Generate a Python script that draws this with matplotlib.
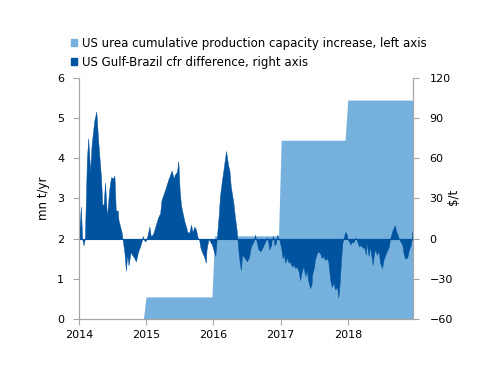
"""
US urea capacity additions vs US Gulf-Brazil cfr spread, 2014-2018.
Left axis: cumulative capacity increase (mn t/yr), right axis: spread ($/t).
"""
import matplotlib
matplotlib.use("Agg")
import matplotlib.pyplot as plt
from matplotlib.patches import Patch

LIGHT = "#76b0dd"
DARK = "#00539f"
GREY = "#a6a6a6"

# cumulative capacity increase, mn t/yr (step series, decimal years)
cap_t = [2014.00, 2014.96, 2015.00, 2015.98, 2016.02, 2016.97, 2017.01, 2017.96, 2018.00, 2018.97]
cap_v = [0.0, 0.0, 0.55, 0.55, 2.07, 2.07, 4.45, 4.45, 5.45, 5.45]

# US Gulf - Brazil cfr difference, $/t
diff_t = [
    2014.00, 2014.03, 2014.05, 2014.07, 2014.09, 2014.12, 2014.14, 2014.17, 2014.19, 2014.23,
    2014.26, 2014.29, 2014.33, 2014.35, 2014.37, 2014.39, 2014.42, 2014.45, 2014.48, 2014.51,
    2014.53, 2014.55, 2014.58, 2014.59, 2014.61, 2014.64, 2014.65, 2014.68, 2014.70, 2014.72,
    2014.74, 2014.77, 2014.79, 2014.82, 2014.85, 2014.88, 2014.91, 2014.94, 2014.95, 2014.97,
    2014.99, 2015.01, 2015.05, 2015.07, 2015.10, 2015.12, 2015.15, 2015.18, 2015.21,
    2015.23, 2015.28, 2015.33, 2015.36, 2015.38, 2015.41, 2015.43, 2015.46, 2015.48, 2015.50,
    2015.52, 2015.54, 2015.57, 2015.60, 2015.61, 2015.64, 2015.67, 2015.69, 2015.72, 2015.74,
    2015.77, 2015.79, 2015.81, 2015.84, 2015.86, 2015.89, 2015.90, 2015.93, 2015.95, 2015.98,
    2016.00, 2016.03, 2016.05, 2016.08, 2016.10, 2016.13, 2016.15, 2016.18, 2016.19, 2016.22,
    2016.24, 2016.26, 2016.30, 2016.32, 2016.35,
    2016.38, 2016.41, 2016.43, 2016.46, 2016.50, 2016.53, 2016.56, 2016.60, 2016.62, 2016.65,
    2016.67, 2016.70, 2016.73, 2016.76, 2016.80, 2016.82, 2016.83, 2016.86, 2016.87, 2016.89,
    2016.91, 2016.93, 2016.95, 2016.97, 2016.98, 2017.01, 2017.03, 2017.05, 2017.07, 2017.10,
    2017.12, 2017.14, 2017.17, 2017.19, 2017.22, 2017.24, 2017.27, 2017.29, 2017.32, 2017.34,
    2017.37, 2017.39, 2017.41, 2017.44, 2017.46, 2017.47, 2017.50, 2017.51, 2017.54, 2017.56,
    2017.59, 2017.61, 2017.64, 2017.66, 2017.69, 2017.71, 2017.74, 2017.76, 2017.79, 2017.81,
    2017.84, 2017.86, 2017.88, 2017.90, 2017.92, 2017.94, 2017.96, 2017.98, 2018.00, 2018.02,
    2018.04, 2018.06, 2018.08, 2018.11, 2018.12, 2018.14, 2018.17, 2018.19, 2018.22, 2018.24,
    2018.27, 2018.28, 2018.31, 2018.33, 2018.36, 2018.37, 2018.39, 2018.41, 2018.43, 2018.46,
    2018.48, 2018.51, 2018.53, 2018.56, 2018.58, 2018.61, 2018.63, 2018.66, 2018.68, 2018.70,
    2018.72, 2018.74, 2018.76, 2018.78, 2018.81, 2018.83, 2018.85, 2018.87, 2018.89, 2018.91,
    2018.93, 2018.95, 2018.96, 2018.97,
]
diff_v = [
    0, 24, 0, -5, 0, 59, 75, 50, 70, 88,
    95, 72, 46, 25, 26, 42, 16, 36, 46, 45,
    47, 21, 21, 14, 10, 4, 0, -11, -24, -12,
    -20, -10, -12, -14, -17, -10, -6, -1, 2, -1,
    -2, 0, 9, 2, 3, 6, 11, 16, 19,
    29, 36, 44, 48, 51, 45, 48, 50, 58, 36,
    25, 20, 13, 8, 5.5, 4, 10.5, 5, 9, 7,
    0.5, -1, -7, -11, -13, -18, -8, 0, -2, -4.5,
    -8, -13, -1, 17, 32, 44, 51, 62, 65.5, 55,
    51, 39, 26.5, 17, 5.5,
    -13, -23.5, -12, -14, -17, -14, -6, -2, 3, -3.5,
    -8, -9.5, -7, -3.5, 1, -3.5, -8, -5, -1, 2,
    -5, -3.5, 3, 0, -0.5, -7, -14.5, -12, -18, -14,
    -18, -17, -21, -19.5, -22, -21, -24.5, -31, -23.5, -21,
    -28, -23.5, -31, -37, -34.5, -27, -21, -16, -11, -9.5,
    -11, -14.5, -13, -16, -14.5, -17, -31, -36, -33, -38,
    -36, -44, -33, -16, -3, 0.5, 5, 4, -1, -2,
    -4.5, -2, -3, 0, 1, -2, -6, -4.5, -7, -6,
    -12, -3, -13, -6, -16, -19.5, -11, -8, -12, -9.5,
    -18, -22, -16, -12, -9.5, -6, 0, 5.5, 8, 10,
    5.5, 3, 0, -2, -4.5, -11, -14.5, -15, -13, -8,
    -6, -1, 5.5, 0,
]

years = [2014, 2015, 2016, 2017, 2018]

plt.rcParams["font.family"] = "DejaVu Sans"
plt.rcParams["font.size"] = 8

fig = plt.figure(figsize=(5.0, 3.86), dpi=100)
ax = fig.add_axes([0.1576, 0.1736, 0.6684, 0.6244])
ax2 = ax.twinx()

ax.fill_between(cap_t, 0, cap_v, color=LIGHT, linewidth=0)
ax2.fill_between(diff_t, 0, diff_v, color=DARK, linewidth=0.3, edgecolor=DARK)
ax2.axhline(0, color=DARK, linewidth=0.8)

ax.set_xlim(2014.0, 2018.97)
ax.set_ylim(0, 6)
ax2.set_ylim(-60, 120)
ax.set_xticks(years)
ax.set_xticklabels([str(y) for y in years])
ax.set_yticks(range(0, 7))
ax2.set_yticks(range(-60, 121, 30))
ax.set_ylabel("mn t/yr", fontsize=8.5)
ax2.set_ylabel("$/t", fontsize=8.5)
ax.yaxis.set_label_coords(-0.086, 0.5)
ax2.yaxis.set_label_coords(1.103, 0.505)

for a in (ax, ax2):
    a.spines["top"].set_visible(False)
    for side in ("left", "right", "bottom"):
        a.spines[side].set_color(GREY)
        a.spines[side].set_linewidth(0.8)
    a.tick_params(direction="out", length=4, width=0.8, color=GREY, labelsize=8)
ax.tick_params(axis="y", pad=6.5)
ax2.tick_params(axis="y", pad=8)
ax.tick_params(axis="x", pad=4)

handles = [Patch(color=LIGHT), Patch(color=DARK)]
labels = ["US urea cumulative production capacity increase, left axis",
          "US Gulf-Brazil cfr difference, right axis"]
fig.legend(handles, labels, loc="upper left", bbox_to_anchor=(0.142, 0.905),
           frameon=False, handlelength=0.5, handleheight=0.5, handletextpad=0.4,
           labelspacing=0.5, borderaxespad=0, borderpad=0, fontsize=8.5)

fig.savefig("out.png", dpi=100)
